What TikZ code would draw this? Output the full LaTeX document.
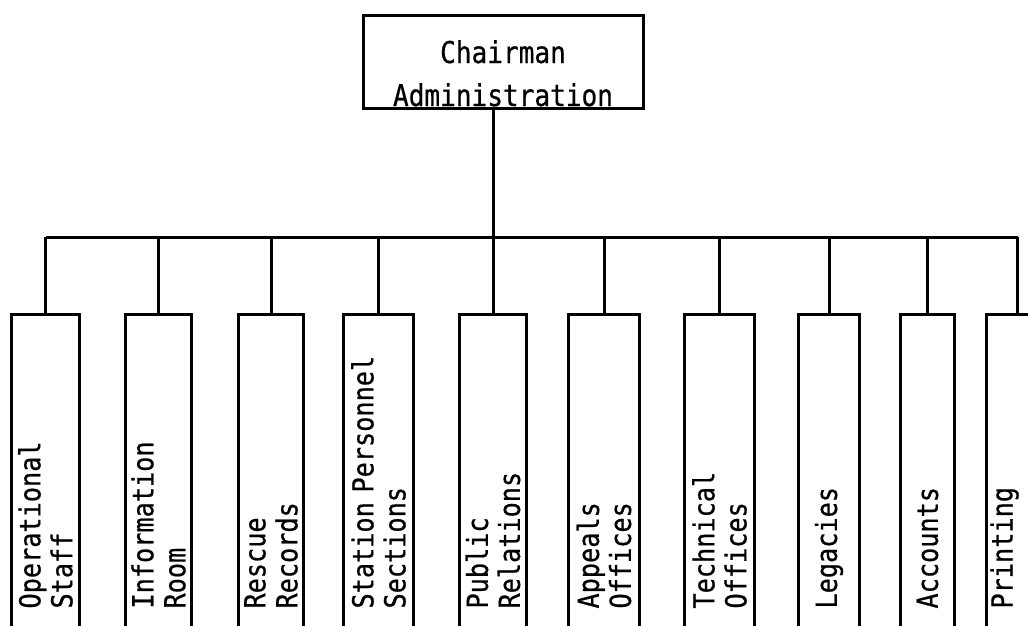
\documentclass[tikz,border=0pt]{standalone}
\usepackage{fontspec}
\newfontfamily\orgfont[FakeStretch=0.87, FakeBold=0.6]{DejaVu Sans Mono}
\tikzset{
	link/.style={black, line width=3pt},
	head/.style={draw, line width=3pt, minimum width=280pt, minimum height=93pt, inner ysep=0pt, align=center, text height=89pt, text depth=0pt, font=\orgfont\fontsize{30}{43}\selectfont},
	dept/.style={draw, line width=3pt, rotate=90, anchor=north west, inner xsep=30pt, text width=264pt, align=left, font=\orgfont\fontsize{29}{32}\selectfont}
}
\begin{document}
\begin{tikzpicture}[x=1pt, y=-1pt]
		\useasboundingbox (0,0) rectangle (1028,625);
		\clip (0,0) rectangle (1028,625);
		\node[head] (chair) at (503,61.5) {Chairman\\Administration};
		\coordinate (bus) at (0,237);
		% departments, bottom ends run off the page
		\node[dept, minimum height=68pt] (oper) at (10,640) {Operational\\Staff};
		\node[dept, minimum height=66pt] (info) at (124,640) {Information\\Room};
		\node[dept, minimum height=65pt] (rescue) at (237,640) {Rescue\\Records};
		\node[dept, minimum height=70pt] (station) at (342,640) {Station Personnel\\Sections};
		\node[dept, minimum height=67pt] (pub) at (458,640) {Public\\Relations};
		\node[dept, minimum height=71pt] (appeal) at (567,640) {Appeals\\Offices};
		\node[dept, minimum height=70pt] (tech) at (683,640) {Technical\\Offices};
		\node[dept, minimum height=61pt] (legacy) at (797,640) {Legacies};
		\node[dept, minimum height=54pt] (account) at (899,640) {Accounts};
		\node[dept, minimum height=62pt] (print) at (985,640) {Printing\\\mbox{}};
		\draw[link] (chair.south -| pub.east) -- (pub.east);
		\draw[link] (oper.east |- bus) -- (print.east |- bus);
		\foreach \d in {oper,info,rescue,station,appeal,tech,legacy,account,print}
			\draw[link] (\d.east) -- (\d.east |- bus);
\end{tikzpicture}
\end{document}
